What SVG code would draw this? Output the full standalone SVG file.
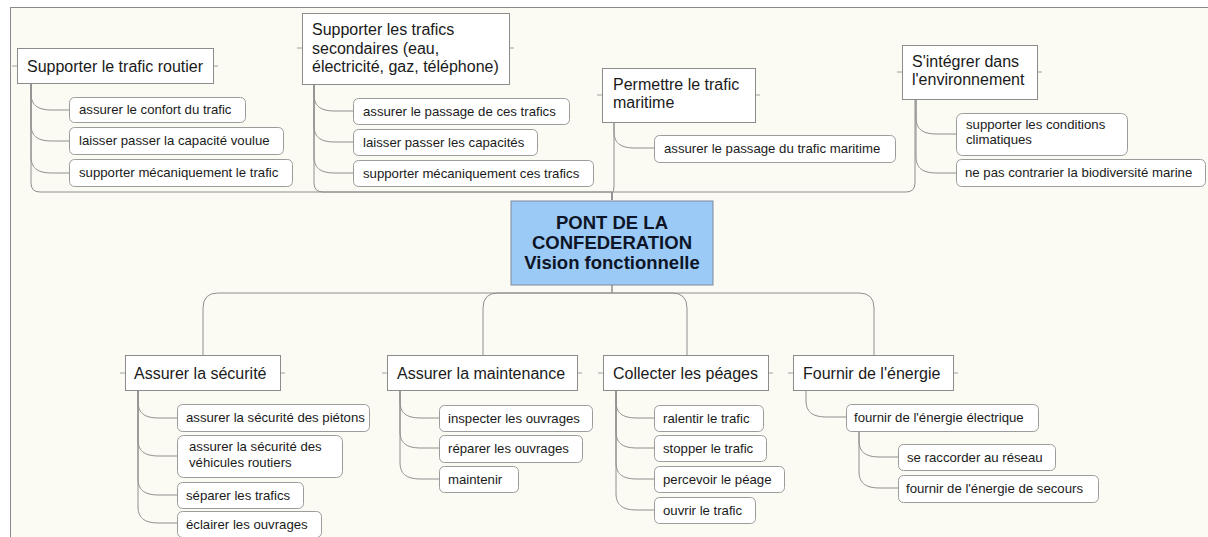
<svg xmlns="http://www.w3.org/2000/svg" width="1208" height="537" viewBox="0 0 1208 537">
  <style>
    .frame { fill: #fcfbf3; stroke: #8a8a8a; stroke-width: 1; }
    .topic { fill: #ffffff; stroke: #8c8c8c; stroke-width: 1; }
    .sub { fill: #ffffff; stroke: #9c9c9c; stroke-width: 1; }
    .root { fill: #9ccaf7; stroke: #7d8a99; stroke-width: 1; }
    .link { fill: none; stroke: #8e8e8e; stroke-width: 1; }
    .tick { stroke: #a0a0a0; stroke-width: 1; }
    .t1 { font-family: "Liberation Sans", Arial, sans-serif; font-size: 16px; fill: #1a1a1a; }
    .t2 { font-family: "Liberation Sans", Arial, sans-serif; font-size: 13.2px; fill: #1a1a1a; }
    .t0 { font-family: "Liberation Sans", Arial, sans-serif; font-size: 18.5px; font-weight: bold; fill: #0d1526; text-anchor: middle; }
  </style>

  <!-- page background and canvas frame -->
  <rect x="0" y="0" width="1208" height="537" fill="#ffffff"/>
  <rect class="frame" x="10.5" y="7.5" width="1210" height="540"/>

  <!-- connectors -->
  <g id="connectors">
    <!-- central topic to upper main topics -->
    <path class="link" d="M612,200 V192 H40 Q31,192 31,183 V84"/>
    <path class="link" d="M612,200 V192 H323 Q314,192 314,183 V84"/>
    <path class="link" d="M612,200 V193 Q614,192 614,186 V122"/>
    <path class="link" d="M612,200 V192 H906 Q915,192 915,183 V99"/>
    <!-- central topic to lower main topics -->
    <path class="link" d="M612,285 V293 H218 Q203,293 203,308 V355"/>
    <path class="link" d="M612,285 V293 H498 Q483,293 483,308 V355"/>
    <path class="link" d="M612,293 H672 Q687,293 687,308 V355"/>
    <path class="link" d="M612,293 H859 Q874,293 874,308 V355"/>

    <!-- Supporter le trafic routier -->
    <path class="link" d="M31,84 V93 C31,104 36,110 52,110 H69"/>
    <path class="link" d="M31,84 V124 C31,135 36,141 52,141 H69"/>
    <path class="link" d="M31,84 V156 C31,167 36,173 52,173 H69"/>
    <!-- Supporter les trafics secondaires -->
    <path class="link" d="M314,84 V94 C314,105 319,111 335,111 H353"/>
    <path class="link" d="M314,84 V125 C314,136 319,142 335,142 H353"/>
    <path class="link" d="M314,84 V156 C314,167 319,173 335,173 H353"/>
    <!-- Permettre le trafic maritime -->
    <path class="link" d="M614,122 V131 C614,142 619,148 635,148 H654"/>
    <!-- S'intégrer dans l'environnement -->
    <path class="link" d="M916,99 V117 C916,128 921,134 937,134 H956"/>
    <path class="link" d="M916,99 V156 C916,167 921,173 937,173 H956"/>

    <!-- Assurer la sécurité -->
    <path class="link" d="M138,391 V401 C138,412 143,418 159,418 H177"/>
    <path class="link" d="M138,391 V439 C138,450 143,456 159,456 H177"/>
    <path class="link" d="M138,391 V478 C138,489 143,495 159,495 H177"/>
    <path class="link" d="M138,391 V506 C138,517 143,523 159,523 H177"/>
    <!-- Assurer la maintenance -->
    <path class="link" d="M400,391 V401 C400,412 405,418 421,418 H439"/>
    <path class="link" d="M400,391 V431 C400,442 405,448 421,448 H439"/>
    <path class="link" d="M400,391 V462 C400,473 405,479 421,479 H439"/>
    <!-- Collecter les péages -->
    <path class="link" d="M616,391 V401 C616,412 621,418 637,418 H654"/>
    <path class="link" d="M616,391 V431 C616,442 621,448 637,448 H654"/>
    <path class="link" d="M616,391 V462 C616,473 621,479 637,479 H654"/>
    <path class="link" d="M616,391 V493 C616,504 621,510 637,510 H654"/>
    <!-- Fournir de l'énergie -->
    <path class="link" d="M806,391 V400 C806,411 811,417 827,417 H846"/>
    <path class="link" d="M859,431 V440 C859,451 864,457 880,457 H898"/>
    <path class="link" d="M859,431 V471 C859,482 864,488 880,488 H898"/>
  </g>

  <!-- central topic -->
  <g id="root">
    <rect class="root" x="511" y="201" width="202" height="84"/>
    <text class="t0" x="612" y="229">PONT DE LA</text>
    <text class="t0" x="612" y="249">CONFEDERATION</text>
    <text class="t0" x="612" y="269">Vision fonctionnelle</text>
  </g>

  <!-- upper main topics -->
  <g id="n-routier">
    <line class="tick" x1="12" y1="66" x2="17" y2="66"/>
    <line class="tick" x1="213" y1="66" x2="218" y2="66"/>
    <rect class="topic" x="17.5" y="48.5" width="196" height="35"/>
    <text class="t1" x="27" y="72">Supporter le trafic routier</text>
  </g>
  <g id="n-secondaires">
    <line class="tick" x1="297" y1="48" x2="302" y2="48"/>
    <line class="tick" x1="509" y1="48" x2="514" y2="48"/>
    <rect class="topic" x="302.5" y="13.5" width="207" height="71"/>
    <text class="t1" x="312" y="35">Supporter les trafics</text>
    <text class="t1" x="312" y="54">secondaires (eau,</text>
    <text class="t1" x="312" y="72">électricité, gaz, téléphone)</text>
  </g>
  <g id="n-maritime">
    <line class="tick" x1="597" y1="95" x2="602" y2="95"/>
    <line class="tick" x1="755" y1="95" x2="760" y2="95"/>
    <rect class="topic" x="602.5" y="68.5" width="153" height="54"/>
    <text class="t1" x="613" y="90">Permettre le trafic</text>
    <text class="t1" x="613" y="108">maritime</text>
  </g>
  <g id="n-environnement">
    <line class="tick" x1="897" y1="72" x2="902" y2="72"/>
    <line class="tick" x1="1037" y1="72" x2="1042" y2="72"/>
    <rect class="topic" x="902.5" y="45.5" width="135" height="54"/>
    <text class="t1" x="912" y="67">S'intégrer dans</text>
    <text class="t1" x="912" y="85">l'environnement</text>
  </g>

  <!-- upper subtopics -->
  <g id="s-confort">
    <rect class="sub" x="69.5" y="97.5" width="176" height="25" rx="5"/>
    <text class="t2" x="79" y="114">assurer le confort du trafic</text>
  </g>
  <g id="s-capacite">
    <rect class="sub" x="69.5" y="127.5" width="214" height="27" rx="5"/>
    <text class="t2" x="79" y="145">laisser passer la capacité voulue</text>
  </g>
  <g id="s-meca-trafic">
    <rect class="sub" x="69.5" y="159.5" width="223" height="27" rx="5"/>
    <text class="t2" x="79" y="177">supporter mécaniquement le trafic</text>
  </g>
  <g id="s-passage">
    <rect class="sub" x="353.5" y="98.5" width="216" height="26" rx="5"/>
    <text class="t2" x="363" y="116">assurer le passage de ces trafics</text>
  </g>
  <g id="s-capacites">
    <rect class="sub" x="353.5" y="129.5" width="184" height="26" rx="5"/>
    <text class="t2" x="363" y="147">laisser passer les capacités</text>
  </g>
  <g id="s-meca-secondaires">
    <rect class="sub" x="353.5" y="160.5" width="240" height="26" rx="5"/>
    <text class="t2" x="363" y="178">supporter mécaniquement ces trafics</text>
  </g>
  <g id="s-maritime">
    <rect class="sub" x="654.5" y="135.5" width="241" height="27" rx="5"/>
    <text class="t2" x="664" y="153">assurer le passage du trafic maritime</text>
  </g>
  <g id="s-climat">
    <rect class="sub" x="956.5" y="113.5" width="171" height="42" rx="6"/>
    <text class="t2" x="966" y="129">supporter les conditions</text>
    <text class="t2" x="966" y="144">climatiques</text>
  </g>
  <g id="s-biodiversite">
    <rect class="sub" x="956.5" y="159.5" width="249" height="27" rx="5"/>
    <text class="t2" x="965" y="177">ne pas contrarier la biodiversité marine</text>
  </g>

  <!-- lower main topics -->
  <g id="n-securite">
    <line class="tick" x1="120" y1="373" x2="125" y2="373"/>
    <line class="tick" x1="280" y1="373" x2="285" y2="373"/>
    <rect class="topic" x="125.5" y="355.5" width="155" height="35"/>
    <text class="t1" x="134" y="379">Assurer la sécurité</text>
  </g>
  <g id="n-maintenance">
    <line class="tick" x1="382" y1="373" x2="387" y2="373"/>
    <line class="tick" x1="577" y1="373" x2="582" y2="373"/>
    <rect class="topic" x="387.5" y="355.5" width="190" height="35"/>
    <text class="t1" x="397" y="379">Assurer la maintenance</text>
  </g>
  <g id="n-peages">
    <line class="tick" x1="598" y1="373" x2="603" y2="373"/>
    <line class="tick" x1="768" y1="373" x2="773" y2="373"/>
    <rect class="topic" x="603.5" y="355.5" width="165" height="35"/>
    <text class="t1" x="613" y="379">Collecter les péages</text>
  </g>
  <g id="n-energie">
    <line class="tick" x1="788" y1="373" x2="793" y2="373"/>
    <line class="tick" x1="953" y1="373" x2="958" y2="373"/>
    <rect class="topic" x="793.5" y="355.5" width="160" height="35"/>
    <text class="t1" x="803" y="379">Fournir de l'énergie</text>
  </g>

  <!-- lower subtopics -->
  <g id="s-pietons">
    <rect class="sub" x="177.5" y="404.5" width="192" height="27" rx="5"/>
    <text class="t2" x="186" y="422">assurer la sécurité des piétons</text>
  </g>
  <g id="s-vehicules">
    <rect class="sub" x="177.5" y="435.5" width="165" height="42" rx="6"/>
    <text class="t2" x="189" y="451">assurer la sécurité des</text>
    <text class="t2" x="189" y="467">véhicules routiers</text>
  </g>
  <g id="s-separer">
    <rect class="sub" x="177.5" y="482.5" width="126" height="26" rx="5"/>
    <text class="t2" x="186" y="500">séparer les trafics</text>
  </g>
  <g id="s-eclairer">
    <rect class="sub" x="177.5" y="511.5" width="144" height="26" rx="5"/>
    <text class="t2" x="186" y="529">éclairer les ouvrages</text>
  </g>
  <g id="s-inspecter">
    <rect class="sub" x="439.5" y="405.5" width="153" height="26" rx="5"/>
    <text class="t2" x="448" y="423">inspecter les ouvrages</text>
  </g>
  <g id="s-reparer">
    <rect class="sub" x="439.5" y="435.5" width="143" height="27" rx="5"/>
    <text class="t2" x="448" y="453">réparer les ouvrages</text>
  </g>
  <g id="s-maintenir">
    <rect class="sub" x="439.5" y="466.5" width="79" height="26" rx="5"/>
    <text class="t2" x="448" y="484">maintenir</text>
  </g>
  <g id="s-ralentir">
    <rect class="sub" x="654.5" y="405.5" width="109" height="26" rx="5"/>
    <text class="t2" x="663" y="423">ralentir le trafic</text>
  </g>
  <g id="s-stopper">
    <rect class="sub" x="654.5" y="435.5" width="112" height="26" rx="5"/>
    <text class="t2" x="663" y="453">stopper le trafic</text>
  </g>
  <g id="s-percevoir">
    <rect class="sub" x="654.5" y="466.5" width="130" height="26" rx="5"/>
    <text class="t2" x="663" y="484">percevoir le péage</text>
  </g>
  <g id="s-ouvrir">
    <rect class="sub" x="654.5" y="497.5" width="101" height="26" rx="5"/>
    <text class="t2" x="663" y="515">ouvrir le trafic</text>
  </g>
  <g id="s-electrique">
    <rect class="sub" x="846.5" y="404.5" width="192" height="27" rx="5"/>
    <text class="t2" x="854" y="422">fournir de l'énergie électrique</text>
  </g>
  <g id="s-reseau">
    <rect class="sub" x="898.5" y="444.5" width="157" height="26" rx="5"/>
    <text class="t2" x="907" y="462">se raccorder au réseau</text>
  </g>
  <g id="s-secours">
    <rect class="sub" x="898.5" y="475.5" width="200" height="27" rx="5"/>
    <text class="t2" x="906" y="493">fournir de l'énergie de secours</text>
  </g>
</svg>
